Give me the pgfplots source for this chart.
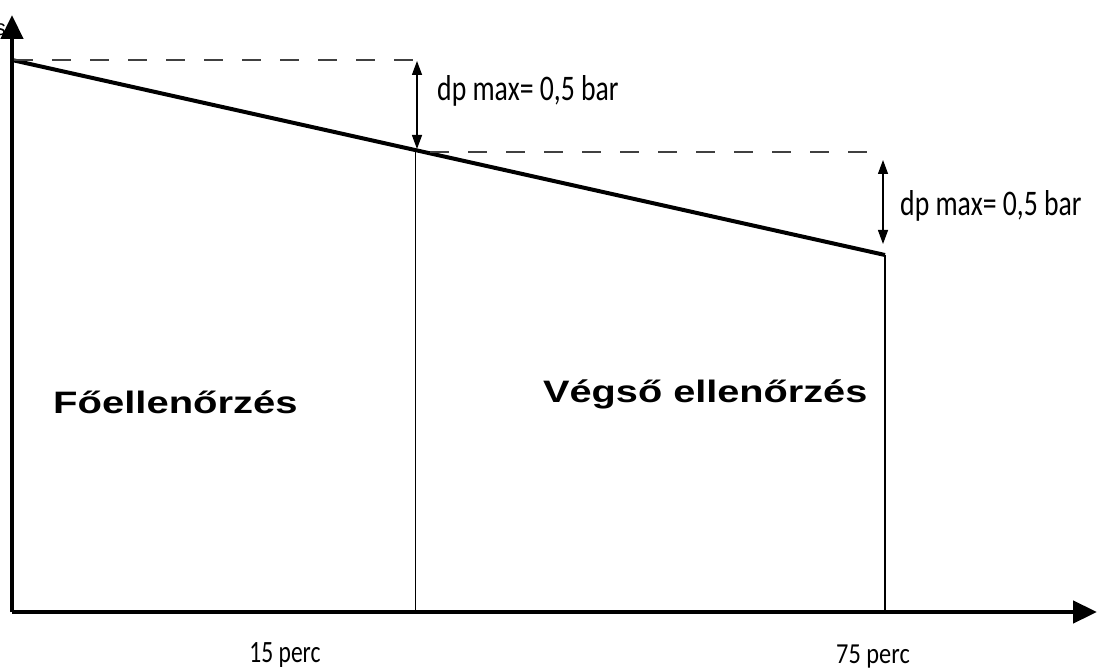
\documentclass[border=0pt]{standalone}
\usepackage{pgfplots}
\pgfplotsset{compat=1.18}
\usepackage{fontspec}
\setmainfont{Carlito}
\newfontfamily\arialf{Liberation Sans}
\usetikzlibrary{arrows.meta}
\begin{document}
\begin{tikzpicture}
\begin{axis}[
  scale only axis, width=1085pt, height=597pt,
  xmin=12, xmax=1097, ymin=58, ymax=655,
  axis lines=left,
  axis line style={line width=4.5pt, -{Triangle[length=24pt,width=22pt]}},
  xtick=\empty, ytick=\empty,
  clip=false,
]
\coordinate (SW) at (axis cs:0,0);
\coordinate (NE) at (axis cs:1097,670);
% pressure drop line
\addplot[black, line width=4pt] coordinates {(12,610) (415,520) (885,415)};
% vertical thin lines
\addplot[black, line width=1pt] coordinates {(415,520) (415,58)};
\addplot[black, line width=1.6pt] coordinates {(885,415) (885,58)};
% dashed levels
\addplot[black!75, line width=1.5pt, dash pattern=on 19pt off 19pt] coordinates {(14,610) (418,610)};
\addplot[black!75, line width=1.5pt, dash pattern=on 19pt off 19pt] coordinates {(430,518) (884,518)};
% dp arrows
\draw[line width=1.3pt, {Triangle[length=14pt,width=10pt]}-{Triangle[length=14pt,width=10pt]}] (axis cs:417,609) -- (axis cs:417,521);
\draw[line width=1.3pt, {Triangle[length=14pt,width=10pt]}-{Triangle[length=14pt,width=10pt]}] (axis cs:883,510) -- (axis cs:883,426);
\node[anchor=base west, font=\fontsize{36}{40}\selectfont, inner sep=0pt] at (axis cs:437,569) {\scalebox{0.77}[1]{dp max= 0,5 bar}};
\node[anchor=base west, font=\fontsize{36}{40}\selectfont, inner sep=0pt] at (axis cs:900,454) {\scalebox{0.77}[1]{dp max= 0,5 bar}};
% region labels
\node[anchor=base west, font=\arialf\bfseries\fontsize{31}{34}\selectfont, inner sep=0pt] at (axis cs:53,257) {\scalebox{1.29}[1]{Főellenőrzés}};
\node[anchor=base west, font=\arialf\bfseries\fontsize{31}{34}\selectfont, inner sep=0pt] at (axis cs:543,268) {\scalebox{1.28}[1]{Végső ellenőrzés}};
% time labels
\node[anchor=base, font=\fontsize{31}{34}\selectfont, inner sep=0pt] at (axis cs:285,8) {\scalebox{0.76}[1]{15 perc}};
\node[anchor=base, font=\fontsize{29}{32}\selectfont, inner sep=0pt] at (axis cs:873,7) {\scalebox{0.84}[1]{75 perc}};
\node[anchor=east, font=\arialf\fontsize{22}{24}\selectfont, inner sep=0pt] at (axis cs:6,640) {s};
\end{axis}
\pgfresetboundingbox
\path[use as bounding box] (SW) rectangle (NE);
\end{tikzpicture}
\end{document}
